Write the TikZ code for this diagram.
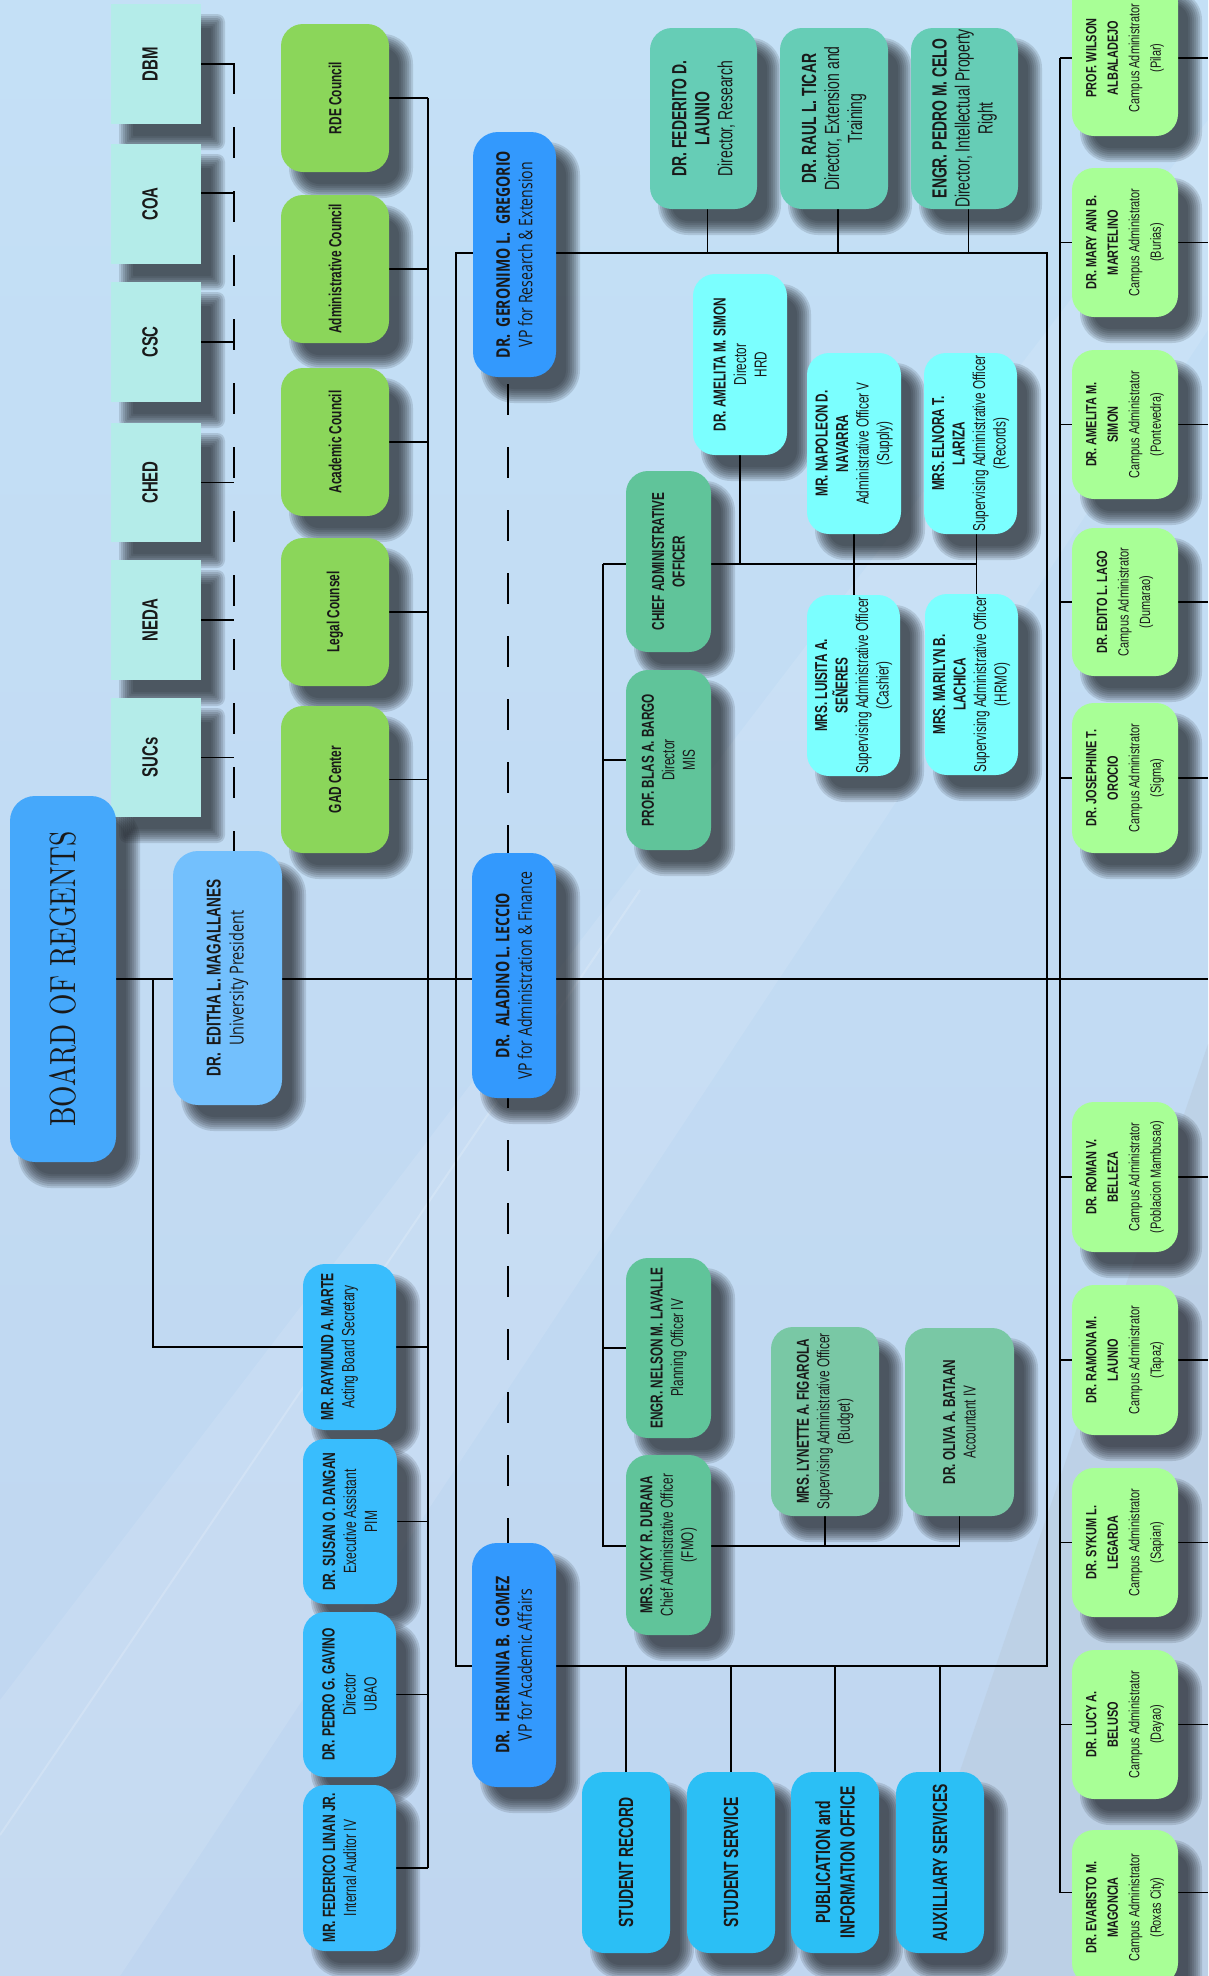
\documentclass[tikz,border=0pt]{standalone}
\usepackage{fontspec}
\usepackage{graphicx}
\newfontfamily\nar[FakeStretch=0.68]{Liberation Sans}
\newfontfamily\narc[FakeStretch=0.74]{Liberation Sans}
\newfontfamily\opn[FakeStretch=0.75]{Open Sans}
\usetikzlibrary{calc}
\pgfdeclarelayer{bg}
\pgfdeclarelayer{shd}
\pgfdeclarelayer{lns}
\pgfsetlayers{bg,shd,lns,main}
\definecolor{cAgency}{RGB}{180,236,233}
\definecolor{cCouncil}{RGB}{139,214,90}
\definecolor{cBor}{RGB}{69,168,251}
\definecolor{cPres}{RGB}{115,192,253}
\definecolor{cVp}{RGB}{51,153,253}
\definecolor{cRsch}{RGB}{102,205,182}
\definecolor{cAdm}{RGB}{96,196,154}
\definecolor{cAdmB}{RGB}{121,200,165}
\definecolor{cCyan}{RGB}{123,255,255}
\definecolor{cStud}{RGB}{43,191,245}
\definecolor{cStaff}{RGB}{57,189,253}
\definecolor{cCampus}{RGB}{168,255,150}
\definecolor{ink}{RGB}{25,25,25}
\definecolor{borink}{RGB}{45,45,50}
\definecolor{bgtop}{RGB}{196,224,246}
\definecolor{bgmid}{RGB}{201,234,250}
\definecolor{bgbot}{RGB}{192,214,240}
\definecolor{bggrey}{RGB}{186,204,222}
\definecolor{shadowcol}{RGB}{30,34,40}
\tikzset{
  conn/.style={line width=1.8pt, draw=black},
  dashA/.style={conn, dash pattern=on 31pt off 33pt},
  dashB/.style={conn, dash pattern=on 31pt off 32pt, dash phase=56pt},
  dashC/.style={conn, dash pattern=on 31pt off 32pt, dash phase=21pt},
  fAg/.style={font=\nar\fontsize{22}{25}\selectfont\bfseries, xshift=-6pt},
  fCo/.style={font=\nar\fontsize{17.5}{20}\selectfont\bfseries},
  fBor/.style={text=borink},
  fPr/.style={font=\nar\fontsize{20}{23}\selectfont},
  fVp/.style={font=\opn\fontsize{18.8}{22.5}\selectfont},
  fRs/.style={font=\nar\fontsize{20.5}{23}\selectfont},
  fAd/.style={font=\nar\fontsize{17.3}{20.5}\selectfont},
  fSt/.style={font=\nar\fontsize{20.5}{24.5}\selectfont\bfseries},
  fSf/.style={font=\nar\fontsize{17.7}{21}\selectfont},
  fCp/.style={font=\narc\fontsize{14.8}{21.5}\selectfont},
}
% name, fill, x1, y1, x2, y2, radius, text style, text
\newcommand\orgbox[9]{%
  \begin{pgfonlayer}{shd}
    \foreach \k in {0,...,7}{%
      \pgfmathsetmacro\shE{8-2*\k}%
      \pgfmathsetmacro\shR{max(1,#7+\shE)}%
      \fill[shadowcol, opacity=0.14, rounded corners=\shR pt]
        ({#3+16-\shE},{#4+18-\shE}) rectangle ({#5+16+\shE},{#6+18+\shE});
    }
  \end{pgfonlayer}
  \pgfmathsetmacro\bxW{#5-#3}%
  \pgfmathsetmacro\bxH{#6-#4}%
  \node[fill=#2, rounded corners=#7pt, minimum width=\bxW pt, minimum height=\bxH pt,
        inner sep=0pt, outer sep=0pt] (#1) at ({(#3+#5)/2},{(#4+#6)/2}) {};
  \node[#8, rotate=90, align=center, text=ink, inner sep=0pt] (#1-t) at (#1.center) {#9};
}
\begin{document}
\begin{tikzpicture}[x=1pt, y=-1pt]
\useasboundingbox (0,0) rectangle (1208,1976);
\begin{pgfonlayer}{bg}
  \shade[top color=bgtop, middle color=bgmid, bottom color=bgbot] (0,0) rectangle (1208,1976);
  \fill[bggrey, opacity=0.55] (1208,1044) -- (1208,1976) -- (890,1976) -- cycle;
  \fill[white, opacity=0.10] (0,1700) -- (0,1976) -- (120,1976) -- (1208,330) -- (1208,120) -- cycle;
  \draw[white, opacity=0.18, line width=2pt] (0,1835) -- (640,890);
\end{pgfonlayer}

% agencies
\orgbox{dbm}{cAgency}{111}{4}{201}{124}{0}{fAg}{DBM}
\orgbox{coa}{cAgency}{111}{144}{201}{264}{0}{fAg}{COA}
\orgbox{csc}{cAgency}{111}{282}{201}{402}{0}{fAg}{CSC}
\orgbox{ched}{cAgency}{111}{423}{201}{542}{0}{fAg}{CHED}
\orgbox{neda}{cAgency}{111}{560}{201}{680}{0}{fAg}{NEDA}
\orgbox{sucs}{cAgency}{111}{698}{201}{817}{0}{fAg}{SUCs}

% councils
\orgbox{rde}{cCouncil}{281}{24}{389}{172}{22}{fCo}{RDE Council}
\orgbox{admc}{cCouncil}{281}{195}{389}{343}{22}{fCo}{Administrative Council}
\orgbox{acad}{cCouncil}{281}{368}{389}{516}{22}{fCo}{Academic Council}
\orgbox{legal}{cCouncil}{281}{538}{389}{686}{22}{fCo}{Legal Counsel}
\orgbox{gad}{cCouncil}{281}{706}{389}{853}{22}{fCo}{GAD Center}

% board and president
\orgbox{bor}{cBor}{10}{796}{116}{1162}{25}{fBor}{\resizebox{295pt}{26pt}{BOARD OF REGENTS}}
\orgbox{pres}{cPres}{173}{851}{282}{1105}{25}{fPr}{\textbf{DR.~ EDITHA L. MAGALLANES}\\{\opn\fontsize{19.3}{22}\selectfont University President}}

% vice presidents
\orgbox{greg}{cVp}{473}{132}{556}{377}{25}{fVp}{\textbf{DR.~ GERONIMO L.~ GREGORIO}\\VP for Research \& Extension}
\orgbox{lec}{cVp}{472}{853}{556}{1098}{25}{fVp}{\textbf{DR.~ ALADINO L. LECCIO}\\VP for Administration \& Finance}
\orgbox{gom}{cVp}{472}{1543}{556}{1787}{25}{fVp}{\textbf{DR.~ HERMINIA B.~ GOMEZ}\\VP for Academic Affairs}

% research directors
\orgbox{launio}{cRsch}{650}{28}{757}{209}{22}{fRs}{\textbf{DR. FEDERITO D.}\\\textbf{LAUNIO}\\Director, Research}
\orgbox{ticar}{cRsch}{780}{28}{888}{209}{22}{fRs}{\textbf{DR. RAUL L. TICAR}\\Director, Extension and\\Training}
\orgbox{celo}{cRsch}{911}{28}{1018}{209}{22}{fRs}{\textbf{ENGR. PEDRO M. CELO}\\Director, Intellectual Property\\Right}

% administration
\orgbox{hrd}{cCyan}{693}{274}{787}{455}{22}{fAd}{\textbf{DR. AMELITA M. SIMON}\\Director\\HRD}
\orgbox{navarra}{cCyan}{807}{353}{901}{534}{22}{fAd}{\textbf{MR. NAPOLEON D.}\\\textbf{NAVARRA}\\Administrative Officer V\\(Supply)}
\orgbox{lariza}{cCyan}{924}{353}{1017}{534}{22}{fAd}{\textbf{MRS. ELNORA T.}\\\textbf{LARIZA}\\Supervising Administrative Officer\\(Records)}
\orgbox{seneres}{cCyan}{807}{595}{900}{776}{22}{fAd}{\textbf{MRS. LUISITA A.}\\\textbf{SEÑERES}\\Supervising Administrative Officer\\(Cashier)}
\orgbox{lachica}{cCyan}{925}{594}{1018}{775}{22}{fAd}{\textbf{MRS. MARILYN B.}\\\textbf{LACHICA}\\Supervising Administrative Officer\\(HRMO)}
\orgbox{cao}{cAdm}{626}{471}{711}{652}{22}{fAd}{\textbf{CHIEF ADMINISTRATIVE}\\\textbf{OFFICER}}
\orgbox{bargo}{cAdm}{626}{670}{711}{850}{22}{fAd}{\textbf{PROF. BLAS A. BARGO}\\Director\\MIS}
\orgbox{lavalle}{cAdm}{626}{1258}{711}{1438}{22}{fAd}{\textbf{ENGR. NELSON M. LAVALLE}\\Planning Officer IV}
\orgbox{durana}{cAdm}{626}{1455}{711}{1635}{22}{fAd}{\textbf{MRS. VICKY R. DURANA}\\Chief Administrative Officer\\(FMO)}
\orgbox{figarola}{cAdmB}{771}{1327}{879}{1516}{22}{fAd}{\textbf{MRS. LYNETTE A. FIGAROLA}\\Supervising Administrative Officer\\(Budget)}
\orgbox{bataan}{cAdmB}{905}{1328}{1014}{1516}{22}{fAd}{\textbf{DR. OLIVA A. BATAAN}\\Accountant IV}

% academic affairs units
\orgbox{srec}{cStud}{582}{1772}{670}{1953}{22}{fSt}{STUDENT RECORD}
\orgbox{sserv}{cStud}{687}{1772}{775}{1953}{22}{fSt}{STUDENT SERVICE}
\orgbox{pub}{cStud}{791}{1772}{879}{1953}{22}{fSt}{PUBLICATION and\\INFORMATION OFFICE}
\orgbox{aux}{cStud}{896}{1772}{984}{1953}{22}{fSt}{AUXILLIARY SERVICES}

% board staff
\orgbox{marte}{cStaff}{303}{1264}{396}{1430}{22}{fSf, xshift=-10pt}{\textbf{MR. RAYMUND A. MARTE}\\Acting Board Secretary}
\orgbox{dangan}{cStaff}{303}{1439}{397}{1604}{22}{fSf}{\textbf{DR. SUSAN O. DANGAN}\\Executive Assistant\\PIM}
\orgbox{gavino}{cStaff}{303}{1612}{396}{1777}{22}{fSf}{\textbf{DR. PEDRO G. GAVINO}\\Director\\UBAO}
\orgbox{linan}{cStaff}{303}{1785}{396}{1951}{22}{fSf, xshift=-10pt}{\textbf{MR. FEDERICO LINAN JR.}\\Internal Auditor IV}

% campuses
\orgbox{wilson}{cCampus}{1072}{-20}{1178}{136}{22}{fCp}{\textbf{PROF. WILSON}\\\textbf{ALBALADEJO}\\Campus Administrator\\(Pilar)}
\orgbox{martel}{cCampus}{1072}{168}{1178}{317}{22}{fCp}{\textbf{DR. MARY ANN B.}\\\textbf{MARTELINO}\\Campus Administrator\\(Burias)}
\orgbox{csimon}{cCampus}{1072}{350}{1178}{499}{22}{fCp}{\textbf{DR. AMELITA M.}\\\textbf{SIMON}\\Campus Administrator\\(Pontevedra)}
\orgbox{lago}{cCampus}{1072}{528}{1178}{676}{22}{fCp}{\textbf{DR. EDITO L. LAGO}\\Campus Administrator\\(Dumarao)}
\orgbox{orocio}{cCampus}{1072}{703}{1178}{853}{22}{fCp}{\textbf{DR. JOSEPHINE T.}\\\textbf{OROCIO}\\Campus Administrator\\(Sigma)}
\orgbox{belleza}{cCampus}{1072}{1102}{1178}{1252}{22}{fCp}{\textbf{DR. ROMAN V.}\\\textbf{BELLEZA}\\Campus Administrator\\(Poblacion Mambusao)}
\orgbox{claunio}{cCampus}{1072}{1285}{1178}{1435}{22}{fCp}{\textbf{DR. RAMONA M.}\\\textbf{LAUNIO}\\Campus Administrator\\(Tapaz)}
\orgbox{legarda}{cCampus}{1072}{1468}{1178}{1617}{22}{fCp}{\textbf{DR. SYKUM L.}\\\textbf{LEGARDA}\\Campus Administrator\\(Sapian)}
\orgbox{beluso}{cCampus}{1072}{1650}{1178}{1799}{22}{fCp}{\textbf{DR. LUCY A.}\\\textbf{BELUSO}\\Campus Administrator\\(Dayao)}
\orgbox{magoncia}{cCampus}{1072}{1830}{1178}{1985}{22}{fCp}{\textbf{DR. EVARISTO M.}\\\textbf{MAGONCIA}\\Campus Administrator\\(Roxas City)}

% connectors
\begin{pgfonlayer}{lns}
\coordinate (agbus) at (234,63);
\coordinate (cbus) at (428,93);
\coordinate (mainend) at (1208,979);
\coordinate (bsec) at (153,979);
\coordinate (ftl) at (456,253);
\coordinate (fbr) at (1047,1666);
\coordinate (vpx) at (508,377);
\coordinate (cbx) at (603,564);
\coordinate (cbb) at (603,1546);
\coordinate (cpx) at (1060,57);
\coordinate (redge) at (1208,0);

\foreach \n in {dbm,csc,ched,neda,sucs} \draw[conn] (\n.east) -- (\n.east -| agbus);
\draw[conn] ([yshift=11pt]coa.east) -- ([yshift=11pt]coa.east -| agbus);
\draw[dashA] (agbus) -- (agbus |- pres.north);

\foreach \n in {rde,admc,acad,legal,gad,marte,dangan,gavino,linan} \draw[conn] (\n.east) -- (\n.east -| cbus);
\draw[conn] (cbus |- rde.east) -- (cbus |- linan.east);

\draw[conn] (bor.east) -- (bor.east -| mainend);
\draw[conn] (bsec) |- (marte.west);

\draw[conn] (ftl) rectangle (fbr);
\draw[dashB] (vpx |- greg.south) -- (vpx |- lec.north);
\draw[dashC] (vpx |- lec.south) -- (vpx |- gom.north);

\foreach \n in {launio,ticar,celo} \draw[conn] ([xshift=4pt]\n.south) -- ([xshift=4pt]\n.south |- ftl);

\draw[conn] (cbx) -- ([xshift=6pt]lariza.south |- cbx);
\draw[conn] (hrd.south) -- (hrd.south |- cbx);
\draw[conn] (navarra.south) -- (navarra.south |- seneres.north);
\draw[conn] ([xshift=6pt]lariza.south) -- ([xshift=6pt]lariza.south |- lachica.north);
\draw[conn] (cbx) -- (cbb) -- (cbb -| bataan.south);
\draw[conn] (bargo.west) -- (bargo.west -| cbx);
\draw[conn] (lavalle.west) -- (lavalle.west -| cbx);
\draw[conn] (figarola.south) -- (figarola.south |- cbb);
\draw[conn] (bataan.south) -- (bataan.south |- cbb);

\foreach \n in {srec,sserv,pub,aux} \draw[conn] (\n.north) -- (\n.north |- fbr);

\foreach \n in {wilson,martel,csimon,lago,orocio,belleza,claunio,legarda,beluso}{
  \draw[conn] (\n.west) -- (\n.west -| cpx);
  \draw[conn] (\n.east) -- (\n.east -| redge);
}
\draw[conn] ([yshift=15pt]magoncia.west) -- ([yshift=15pt]magoncia.west -| cpx);
\draw[conn] ([yshift=15pt]magoncia.east) -- ([yshift=15pt]magoncia.east -| redge);
\draw[conn] (cpx |- wilson.west) -- ([yshift=15pt]magoncia.west -| cpx);
\end{pgfonlayer}
\end{tikzpicture}
\end{document}
